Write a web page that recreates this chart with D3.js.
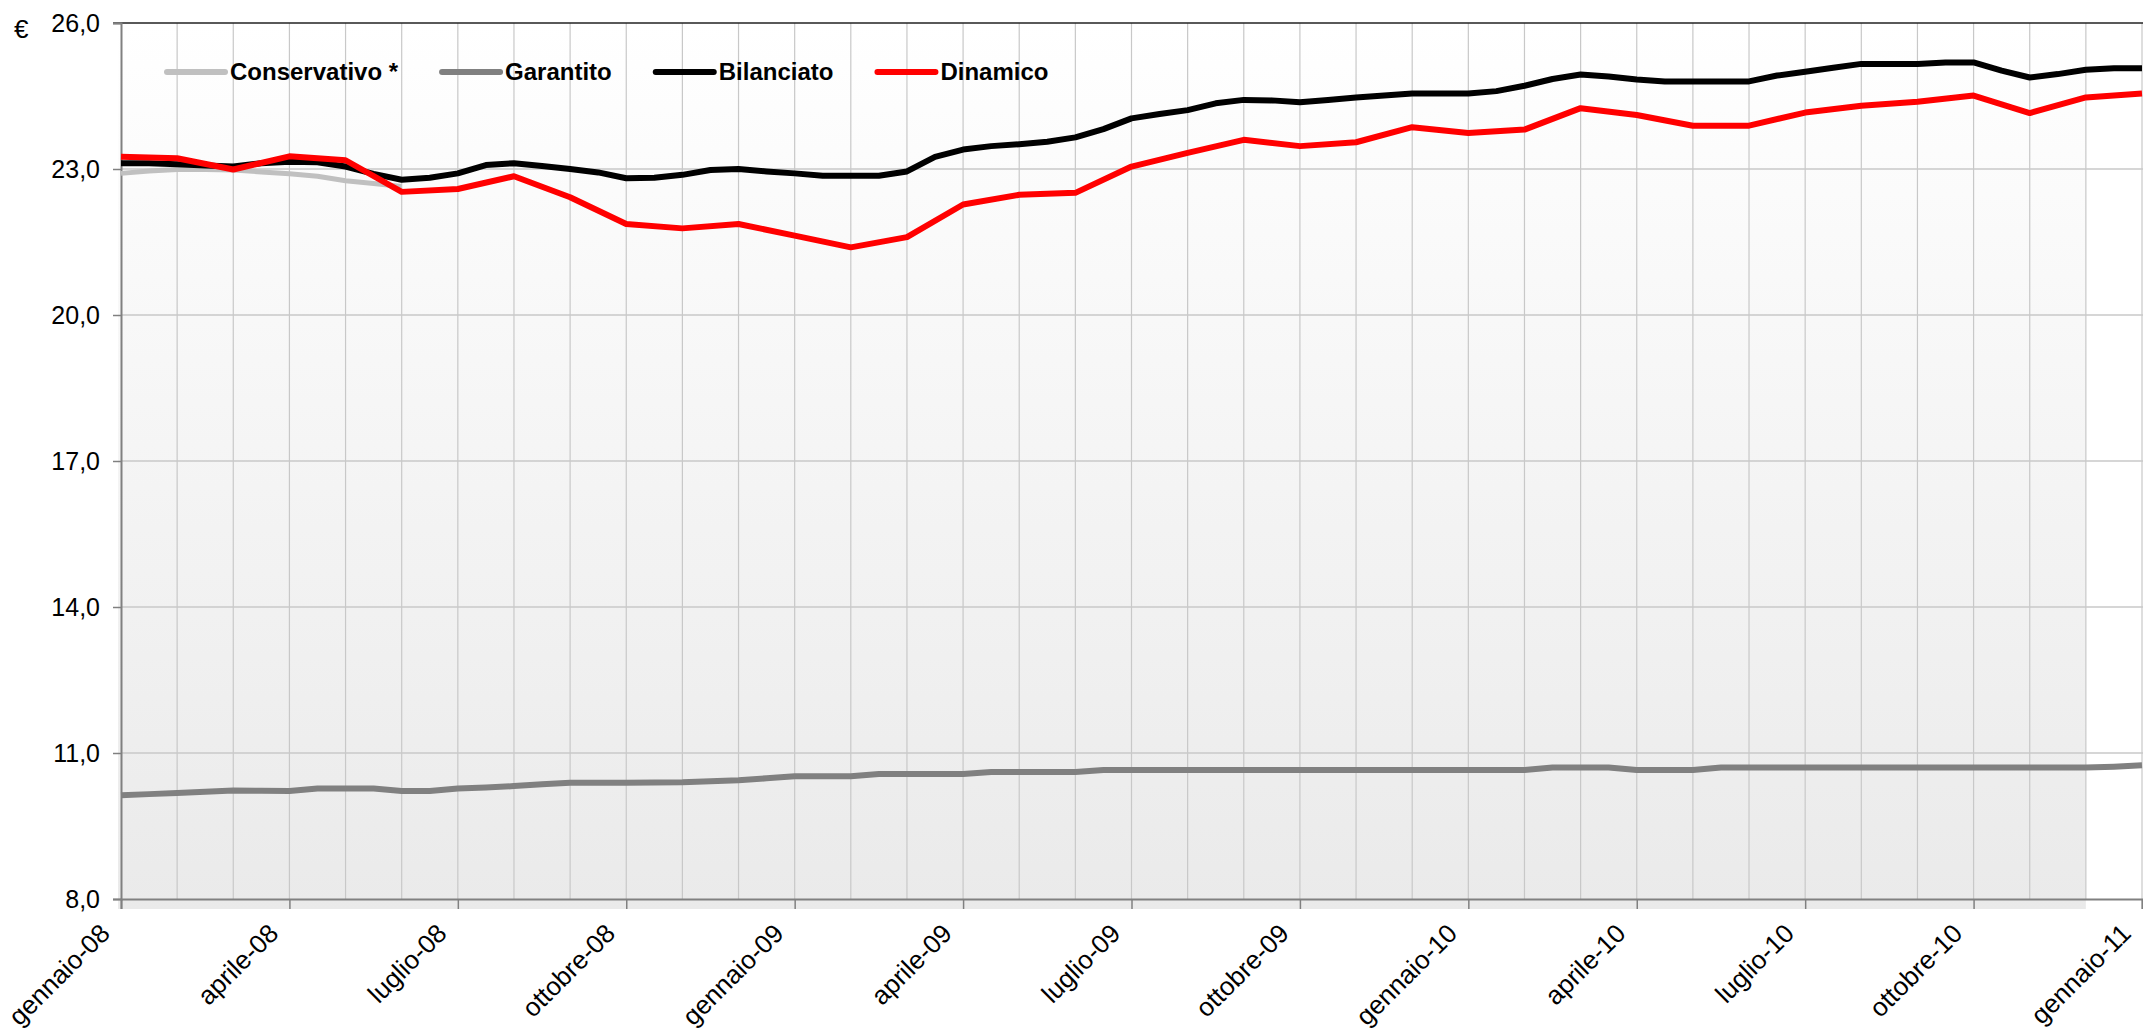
<!DOCTYPE html>
<html>
<head>
<meta charset="utf-8">
<script src="https://cdn.jsdelivr.net/npm/d3@7"></script>
<style>
  body { margin: 0; background: #fff; }
  text { font-family: "Liberation Sans", Arial, sans-serif; fill: #000; }
</style>
</head>
<body>
<div id="chart"></div>
<script>
// month labels on the x axis (one every 3 months)
const monthLabels = [
    'gennaio-08', 'aprile-08', 'luglio-08', 'ottobre-08',
    'gennaio-09', 'aprile-09', 'luglio-09', 'ottobre-09',
    'gennaio-10', 'aprile-10', 'luglio-10', 'ottobre-10',
    'gennaio-11'
];
const yTicks = [8, 11, 14, 17, 20, 23, 26];

// Dinamico: monthly values, gennaio-08 .. gennaio-11
const dinamico = [
    23.25, 23.22, 22.99, 23.26, 23.18, 22.53, 22.59, 22.85, 22.42, 21.87, 21.78, 21.87,
    21.63, 21.39, 21.60, 22.27, 22.47, 22.51, 23.05, 23.33, 23.60, 23.47, 23.55, 23.86,
    23.74, 23.81, 24.25, 24.11, 23.89, 23.89, 24.16, 24.30, 24.38, 24.51, 24.15, 24.47,
    24.55
];

// Bilanciato: twice a month (start and middle), gennaio-08 .. gennaio-11
const bilanciato = [
    23.12, 23.12, 23.10, 23.07, 23.05, 23.12, 23.15, 23.14, 23.05, 22.90, 22.78, 22.82,
    22.91, 23.08, 23.12, 23.06, 23.00, 22.93, 22.81, 22.82, 22.88, 22.98, 23.00, 22.95,
    22.91, 22.86, 22.86, 22.86, 22.95, 23.25, 23.40, 23.47, 23.51, 23.56, 23.65, 23.82,
    24.04, 24.13, 24.21, 24.35, 24.42, 24.41, 24.37, 24.42, 24.47, 24.51, 24.55, 24.55,
    24.55, 24.60, 24.71, 24.85, 24.94, 24.90, 24.84, 24.80, 24.80, 24.80, 24.80, 24.92,
    25.00, 25.08, 25.16, 25.16, 25.16, 25.19, 25.19, 25.02, 24.88, 24.95, 25.04, 25.07,
    25.07
];

// Garantito: twice a month
const garantito = [
    10.13, 10.155, 10.18, 10.205, 10.23, 10.225, 10.22, 10.27, 10.27, 10.27, 10.22, 10.22,
    10.27, 10.29, 10.32, 10.36, 10.39, 10.39, 10.39, 10.395, 10.40, 10.42, 10.44, 10.48,
    10.52, 10.52, 10.52, 10.57, 10.57, 10.57, 10.57, 10.61, 10.61, 10.61, 10.61, 10.65,
    10.65, 10.65, 10.65, 10.65, 10.65, 10.65, 10.65, 10.65, 10.65, 10.65, 10.65, 10.65,
    10.65, 10.65, 10.65, 10.70, 10.70, 10.70, 10.65, 10.65, 10.65, 10.70, 10.70, 10.70,
    10.70, 10.70, 10.70, 10.70, 10.70, 10.70, 10.70, 10.70, 10.70, 10.70, 10.70, 10.72,
    10.75
];

// Conservativo *: twice a month, only until giugno-08
const conservativo = [22.91, 22.96, 22.99, 22.99, 22.98, 22.94, 22.90, 22.85, 22.76, 22.70, 22.64];

const seriesList = [
    { name: 'Conservativo *', values: conservativo, step: 0.5, color: '#c0c0c0', width: 5 },
    { name: 'Garantito', values: garantito, step: 0.5, color: '#808080', width: 6 },
    { name: 'Bilanciato', values: bilanciato, step: 0.5, color: '#000000', width: 6 },
    { name: 'Dinamico', values: dinamico, step: 1, color: '#ff0000', width: 6 }
];

function drawChart() {
    const width = 2143, height = 1030;
    const left = 121, right = 2142, top = 23, bottom = 899;

    const svg = d3.select('#chart').append('svg')
        .attr('width', width)
        .attr('height', height);

    const x = d3.scaleLinear().domain([0, 36]).range([left, right]);
    const y = d3.scaleLinear().domain([8, 26]).range([bottom, top]);

    // plot area gradient (ends at dicembre-10 like the original)
    const grad = svg.append('defs').append('linearGradient')
        .attr('id', 'bg').attr('x1', 0).attr('y1', 0).attr('x2', 0).attr('y2', 1);
    grad.append('stop').attr('offset', '0%').attr('stop-color', '#ffffff');
    grad.append('stop').attr('offset', '100%').attr('stop-color', '#eaeaea');

    svg.append('rect')
        .attr('x', x(0) - 3).attr('y', top)
        .attr('width', x(35) - x(0) + 3)
        .attr('height', bottom + 10 - top)
        .attr('fill', 'url(#bg)');

    // vertical monthly gridlines
    svg.append('g').selectAll('line')
        .data(d3.range(1, 37))
        .join('line')
        .attr('x1', d => x(d)).attr('x2', d => x(d))
        .attr('y1', top).attr('y2', bottom)
        .attr('stroke', '#c8c8c8').attr('stroke-width', 1.2);

    // horizontal gridlines
    svg.append('g').selectAll('line')
        .data(yTicks.slice(1, -1))
        .join('line')
        .attr('x1', left).attr('x2', width)
        .attr('y1', d => y(d)).attr('y2', d => y(d))
        .attr('stroke', '#c8c8c8').attr('stroke-width', 1.5);

    // top border
    svg.append('line')
        .attr('x1', left - 8).attr('x2', width)
        .attr('y1', y(26)).attr('y2', y(26))
        .attr('stroke', '#222').attr('stroke-width', 1.5);

    // y axis
    const yAxis = svg.append('g')
        .attr('transform', `translate(${left},0)`)
        .call(d3.axisLeft(y).tickValues(yTicks).tickSize(8).tickPadding(13)
            .tickFormat(d => d3.format('.1f')(d).replace('.', ',')));
    yAxis.select('.domain').attr('stroke', '#808080').attr('stroke-width', 2);
    yAxis.selectAll('.tick line').attr('stroke', '#808080').attr('stroke-width', 1.5);
    yAxis.selectAll('.tick text').style('font-size', '25px').attr('fill', '#000');

    // x axis
    const xAxis = svg.append('g')
        .attr('transform', `translate(0,${bottom})`)
        .call(d3.axisBottom(x).tickValues(d3.range(0, 37, 3)).tickSize(10)
            .tickFormat((d, i) => monthLabels[i]));
    xAxis.select('.domain').attr('stroke', '#808080').attr('stroke-width', 2);
    xAxis.selectAll('.tick line').attr('stroke', '#808080').attr('stroke-width', 1.5);
    xAxis.selectAll('.tick text')
        .style('font-size', '26px').attr('fill', '#000')
        .attr('text-anchor', 'end')
        .attr('dy', null).attr('y', 0)
        .attr('transform', 'translate(-10,36) rotate(-45)');

    // euro sign
    svg.append('text').attr('x', 14).attr('y', 38)
        .style('font-size', '26px').text('€');

    // series lines
    seriesList.forEach(s => {
        const pts = s.values.map((v, i) => [i * s.step, v]);
        svg.append('path')
            .datum(pts)
            .attr('fill', 'none')
            .attr('stroke', s.color)
            .attr('stroke-width', s.width)
            .attr('stroke-linejoin', 'round')
            .attr('d', d3.line().x(d => x(d[0])).y(d => y(d[1])));
    });

    // legend
    const legend = svg.append('g');
    let lx = 167;
    seriesList.forEach(s => {
        legend.append('line')
            .attr('x1', lx).attr('x2', lx + 58)
            .attr('y1', 72).attr('y2', 72)
            .attr('stroke', s.color).attr('stroke-width', 6)
            .attr('stroke-linecap', 'round');
        const t = legend.append('text')
            .attr('x', lx + 63).attr('y', 80)
            .style('font-size', '24px').style('font-weight', 'bold')
            .text(s.name);
        lx += 63 + t.node().getComputedTextLength() + 44;
    });
}

window.onload = drawChart;
</script>
</body>
</html>
